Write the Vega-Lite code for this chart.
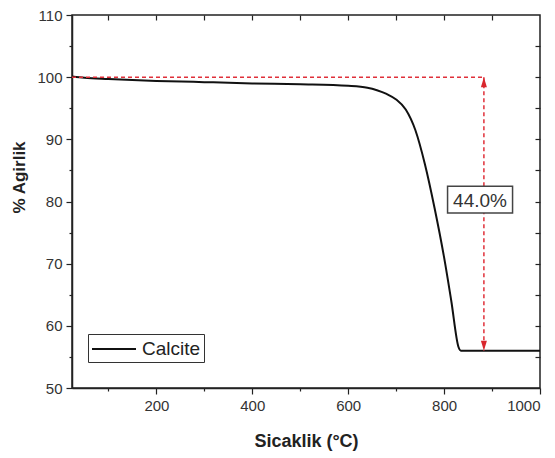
{
  "$schema": "https://vega.github.io/schema/vega-lite/v6.json",
  "width": 468,
  "height": 373,
  "autosize": {"type": "none"},
  "padding": {"left": 72, "top": 15, "right": 15, "bottom": 70},
  "background": "white",
  "config": {
    "view": {"stroke": "#222", "strokeWidth": 1.5},
    "font": "Liberation Sans",
    "axis": {
      "grid": false,
      "domainColor": "#222",
      "domainWidth": 1.5,
      "tickColor": "#222",
      "tickWidth": 1.2,
      "labelFont": "Liberation Sans",
      "labelFontSize": 15,
      "labelColor": "#333",
      "titleFont": "Liberation Sans",
      "titleFontSize": 18,
      "titleFontWeight": "bold",
      "titleColor": "#222"
    }
  },
  "datasets": {
    "curve": [
      {"t": 24, "w": 100.1, "series": "Calcite"},
      {"t": 50, "w": 99.9, "series": "Calcite"},
      {"t": 100, "w": 99.7, "series": "Calcite"},
      {"t": 200, "w": 99.4, "series": "Calcite"},
      {"t": 300, "w": 99.2, "series": "Calcite"},
      {"t": 400, "w": 99.0, "series": "Calcite"},
      {"t": 500, "w": 98.85, "series": "Calcite"},
      {"t": 600, "w": 98.6, "series": "Calcite"},
      {"t": 640, "w": 98.3, "series": "Calcite"},
      {"t": 660, "w": 97.9, "series": "Calcite"},
      {"t": 680, "w": 97.3, "series": "Calcite"},
      {"t": 700, "w": 96.4, "series": "Calcite"},
      {"t": 720, "w": 94.8, "series": "Calcite"},
      {"t": 740, "w": 91.5, "series": "Calcite"},
      {"t": 760, "w": 86.0, "series": "Calcite"},
      {"t": 780, "w": 79.0, "series": "Calcite"},
      {"t": 800, "w": 71.0, "series": "Calcite"},
      {"t": 815, "w": 64.0, "series": "Calcite"},
      {"t": 830, "w": 56.6, "series": "Calcite"},
      {"t": 835, "w": 56.0, "series": "Calcite"},
      {"t": 1000, "w": 56.0, "series": "Calcite"}
    ],
    "hline": [{"t": 24, "t2": 883, "w": 100}],
    "vline": [{"t": 883, "w": 100, "w2": 56}],
    "arrows": [
      {"t": 883, "w": 100, "dir": "up"},
      {"t": 883, "w": 56, "dir": "down"}
    ],
    "label": [{"t": 875, "w": 80.3, "text": "44.0%"}]
  },
  "resolve": {"axis": {"x": "independent", "y": "independent"}},
  "layer": [
    {
      "data": {"name": "curve"},
      "mark": {"type": "line", "strokeWidth": 2, "interpolate": "monotone"},
      "encoding": {
        "x": {
          "field": "t", "type": "quantitative",
          "scale": {"domain": [24, 1000], "nice": false, "zero": false},
          "axis": {
            "orient": "bottom",
            "values": [200, 400, 600, 800, 1000],
            "format": "d",
            "tickSize": 6,
            "labelPadding": 4,
            "title": "Sicaklik (°C)",
            "titleY": 53,
            "titleBaseline": "middle"
          }
        },
        "y": {
          "field": "w", "type": "quantitative",
          "scale": {"domain": [50, 110], "nice": false, "zero": false},
          "axis": {
            "orient": "left",
            "values": [50, 60, 70, 80, 90, 100, 110],
            "format": "d",
            "tickSize": 6,
            "labelPadding": 4,
            "title": "% Agirlik",
            "titleX": -53,
            "titleY": 162,
            "titleBaseline": "middle",
            "titleFontSize": 17
          }
        },
        "color": {
          "field": "series", "type": "nominal",
          "scale": {"range": ["#111"]},
          "legend": {
            "orient": "none",
            "legendX": 16,
            "legendY": 319,
            "title": null,
            "strokeColor": "#333",
            "padding": 3,
            "symbolType": "M-2,0H2",
            "symbolSize": 484,
            "symbolOffset": 11,
            "symbolStrokeWidth": 2,
            "labelFontSize": 19,
            "labelColor": "#222",
            "labelOffset": 16
          }
        }
      }
    },
    {
      "data": {"name": "hline"},
      "mark": {"type": "rule", "color": "#e0303a", "strokeWidth": 1.5, "strokeDash": [4, 3]},
      "encoding": {
        "x": {
          "field": "t", "type": "quantitative",
          "scale": {"domain": [24, 1000], "nice": false, "zero": false},
          "axis": {"orient": "bottom", "values": [100, 300, 500, 700, 900], "labels": false, "domain": false, "tickSize": 3, "title": null}
        },
        "x2": {"field": "t2"},
        "y": {
          "field": "w", "type": "quantitative",
          "scale": {"domain": [50, 110], "nice": false, "zero": false},
          "axis": {"orient": "left", "values": [55, 65, 75, 85, 95, 105], "labels": false, "domain": false, "tickSize": 3, "title": null}
        }
      }
    },
    {
      "data": {"name": "vline"},
      "mark": {"type": "rule", "color": "#e0303a", "strokeWidth": 1.5, "strokeDash": [4, 3]},
      "encoding": {
        "x": {
          "field": "t", "type": "quantitative",
          "scale": {"domain": [24, 1000], "nice": false, "zero": false},
          "axis": {"orient": "top", "values": [100, 200, 300, 400, 500, 600, 700, 800, 900], "labels": false, "domain": false, "tickSize": -5, "title": null}
        },
        "y": {
          "field": "w", "type": "quantitative",
          "scale": {"domain": [50, 110], "nice": false, "zero": false},
          "axis": {"orient": "right", "values": [55, 60, 65, 70, 75, 80, 85, 90, 95, 100, 105], "labels": false, "domain": false, "tickSize": -5, "title": null}
        },
        "y2": {"field": "w2"}
      }
    },
    {
      "data": {"name": "arrows"},
      "transform": [{"filter": "datum.dir == 'up'"}],
      "mark": {"type": "point", "shape": "M0,-1L0.6,1L-0.6,1Z", "size": 100, "filled": true, "color": "#d9272e", "opacity": 1, "yOffset": 5},
      "encoding": {
        "x": {"field": "t", "type": "quantitative", "scale": {"domain": [24, 1000], "nice": false, "zero": false}, "axis": null},
        "y": {"field": "w", "type": "quantitative", "scale": {"domain": [50, 110], "nice": false, "zero": false}, "axis": null}
      }
    },
    {
      "data": {"name": "arrows"},
      "transform": [{"filter": "datum.dir == 'down'"}],
      "mark": {"type": "point", "shape": "M0,1L0.6,-1L-0.6,-1Z", "size": 100, "filled": true, "color": "#d9272e", "opacity": 1, "yOffset": -5},
      "encoding": {
        "x": {"field": "t", "type": "quantitative", "scale": {"domain": [24, 1000], "nice": false, "zero": false}, "axis": null},
        "y": {"field": "w", "type": "quantitative", "scale": {"domain": [50, 110], "nice": false, "zero": false}, "axis": null}
      }
    },
    {
      "data": {"name": "label"},
      "mark": {"type": "point", "shape": "M-1,-0.415H1V0.415H-1Z", "size": 4225, "filled": true, "fill": "white", "stroke": "#444", "strokeWidth": 1.5, "opacity": 1},
      "encoding": {
        "x": {"field": "t", "type": "quantitative", "scale": {"domain": [24, 1000], "nice": false, "zero": false}, "axis": null},
        "y": {"field": "w", "type": "quantitative", "scale": {"domain": [50, 110], "nice": false, "zero": false}, "axis": null}
      }
    },
    {
      "data": {"name": "label"},
      "mark": {"type": "text", "fontSize": 19, "color": "#333", "font": "Liberation Sans", "baseline": "middle", "align": "center", "dy": 1},
      "encoding": {
        "x": {"field": "t", "type": "quantitative", "scale": {"domain": [24, 1000], "nice": false, "zero": false}, "axis": null},
        "y": {"field": "w", "type": "quantitative", "scale": {"domain": [50, 110], "nice": false, "zero": false}, "axis": null},
        "text": {"field": "text"}
      }
    }
  ]
}
